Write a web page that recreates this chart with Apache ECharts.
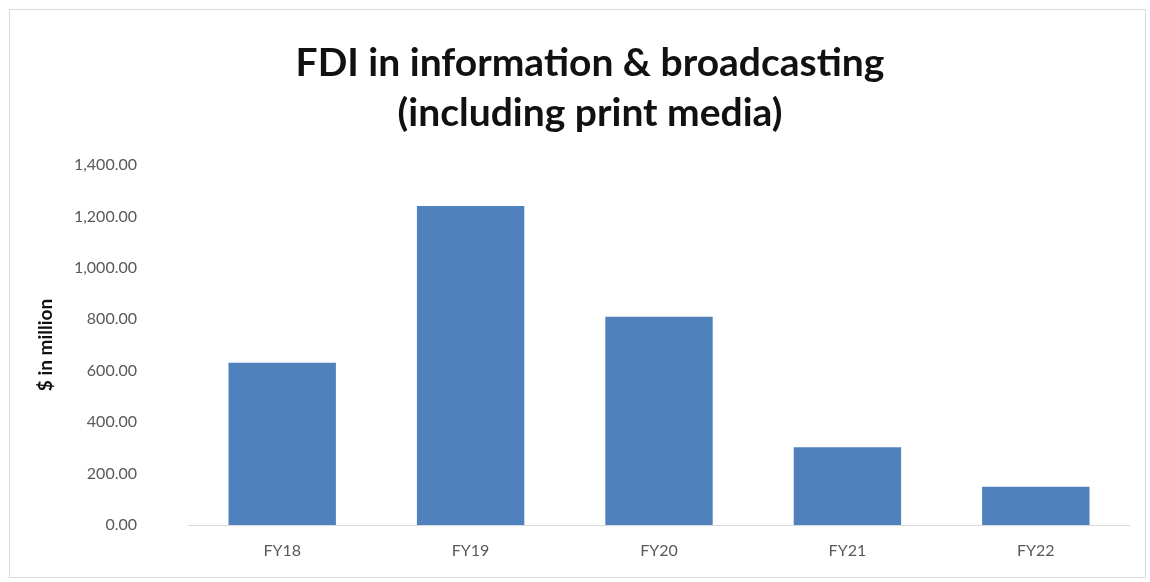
<!DOCTYPE html>
<html>
<head>
<meta charset="utf-8">
<script src="https://cdn.jsdelivr.net/npm/echarts@6/dist/echarts.min.js"></script>
<style>
  html, body { margin: 0; padding: 0; background: #ffffff; }
  #chart { width: 1150px; height: 582px; }
</style>
</head>
<body>
<div id="chart"></div>
<script>
// FDI inflows into information & broadcasting, $ million
const years = ['FY18', 'FY19', 'FY20', 'FY21', 'FY22'];
const fdiValues = [631, 1241, 810, 302, 149];
const yTicks = { min: 0, max: 1400, step: 200 };

const chart = echarts.init(document.getElementById('chart'));

const fmt = v => v.toLocaleString('en-US', { minimumFractionDigits: 2, maximumFractionDigits: 2 });

chart.setOption({
  animation: false,
  backgroundColor: '#ffffff',
  title: {
    text: 'FDI in information & broadcasting\n(including print media)',
    left: 585,
    textAlign: 'center',
    top: 33,
    textStyle: {
      fontFamily: 'Lato',
      fontWeight: 'bold',
      fontSize: 39,
      lineHeight: 50,
      color: '#111111'
    }
  },
  graphic: [{
    type: 'rect',
    shape: { x: 9.5, y: 9.5, width: 1136, height: 568 },
    style: { fill: 'none', stroke: '#d9d9d9', lineWidth: 1 },
    silent: true
  }],
  grid: { left: 188, right: 20, top: 165, bottom: 57 },
  xAxis: {
    type: 'category',
    data: years,
    axisLine: { lineStyle: { color: '#d9d9d9', width: 1 } },
    axisTick: { show: false },
    axisLabel: { color: '#595959', fontFamily: 'Lato', fontSize: 16, margin: 18 }
  },
  yAxis: {
    type: 'value',
    min: yTicks.min,
    max: yTicks.max,
    interval: yTicks.step,
    name: '$ in million',
    nameLocation: 'middle',
    nameRotate: 90,
    nameGap: 133,
    nameTextStyle: { fontFamily: 'Lato', fontWeight: 'bold', fontSize: 19, color: '#111111' },
    axisLine: { show: false },
    axisTick: { show: false },
    splitLine: { show: false },
    axisLabel: {
      color: '#595959',
      fontFamily: 'Lato',
      fontSize: 16,
      margin: 51,
      formatter: v => fmt(v)
    }
  },
  series: [{
    type: 'bar',
    data: fdiValues,
    barCategoryGap: '43%',
    itemStyle: { color: '#4f81bd' }
  }]
});
</script>
</body>
</html>
